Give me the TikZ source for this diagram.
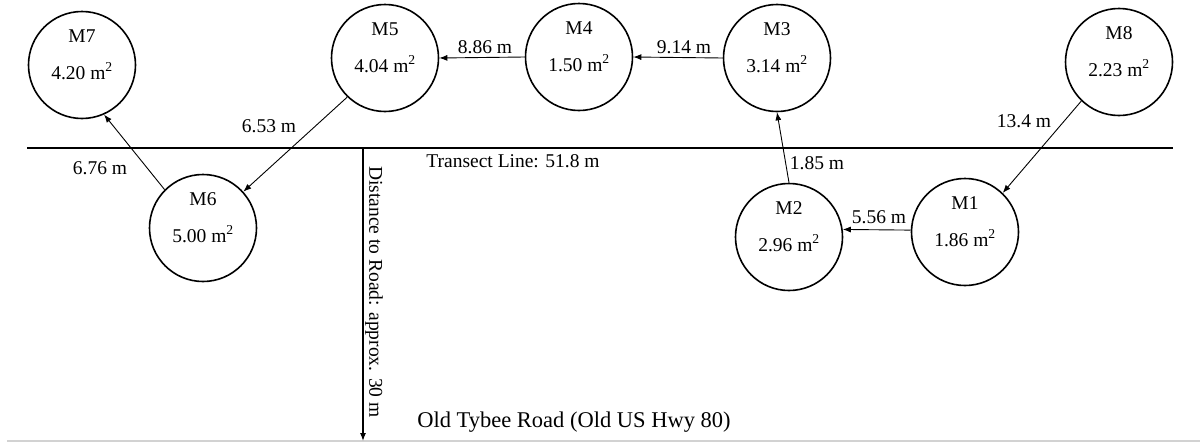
\documentclass[tikz,border=0pt]{standalone}
\usepackage{fontspec}
\setmainfont{Liberation Serif}
\usetikzlibrary{arrows.meta}
\begin{document}
\begin{tikzpicture}[x=1pt,y=-1pt,
  plot/.style={circle,draw,line width=1.6pt,minimum size=107pt,inner sep=0pt},
  link/.style={-{Latex[length=8pt,width=6pt]},line width=0.9pt},
  txt/.style={font=\fontsize{19.5}{22}\selectfont,inner sep=0pt},
  big/.style={font=\fontsize{22.5}{26}\selectfont,inner sep=0pt}]
\useasboundingbox (0,0) rectangle (1204,442);

% sampling plots: circle, name above centre, area below centre
\newcommand{\plotnode}[4]{%
  \node[plot] (#1) at (#2) {};
  \node[txt,anchor=base] (#1n) at ([yshift=23pt]#1.center) {#3};
  \node[txt,anchor=base] (#1a) at ([yshift=-14pt]#1.center) {#4~m\textsuperscript{2}};}

\plotnode{M7}{82,65}{M7}{4.20}
\plotnode{M5}{385,58}{M5}{4.04}
\plotnode{M4}{579,57}{M4}{1.50}
\plotnode{M3}{777,58}{M3}{3.14}
\plotnode{M8}{1119,62}{M8}{2.23}
\plotnode{M6}{203,228}{M6}{5.00}
\plotnode{M2}{789,237}{M2}{2.96}
\plotnode{M1}{965,232}{M1}{1.86}

% transect line and distance to the road
\coordinate (tl) at (27,148);
\coordinate (tr) at (1173,148);
\coordinate (dtop) at (363,148);
\coordinate (dbot) at (363,441);
\coordinate (rl) at (7,441);
\coordinate (rr) at (1200,441);
\draw[gray!35,line width=1.2pt] (rl) -- (rr);
\draw[line width=1.6pt] (tl) -- (tr);
\draw[-{Latex[length=8pt,width=6pt]},line width=1.2pt] (dtop) -- (dbot);

\node[txt] (tlab) at (513,161) {Transect Line: 51.8 m};
\node[txt,rotate=-90] (dlab) at (374,292) {Distance to Road: approx. 30 m};
\node[big] (road) at (574,422) {Old Tybee Road (Old US Hwy 80)};

% walking order between plots
\draw[link] (M8.-134) -- (M1.46);
\draw[link] (M1.178) -- (M2.8);
\draw[link] (M2.north) -- (M3.south);
\draw[link] (M3.west) -- (M4.east);
\draw[link] (M4.west) -- (M5.east);
\draw[link] (M5.-134) -- (M6.42);
\draw[link] (M6.135) -- (M7.-66);

% distances
\node[txt] (d81) at (1024,121) {13.4 m};
\node[txt] (d12) at (879,217) {5.56 m};
\node[txt] (d23) at (817,163) {1.85 m};
\node[txt] (d34) at (684,47) {9.14 m};
\node[txt] (d45) at (485,47) {8.86 m};
\node[txt] (d56) at (269,126) {6.53 m};
\node[txt] (d67) at (100,168) {6.76 m};
\end{tikzpicture}
\end{document}
